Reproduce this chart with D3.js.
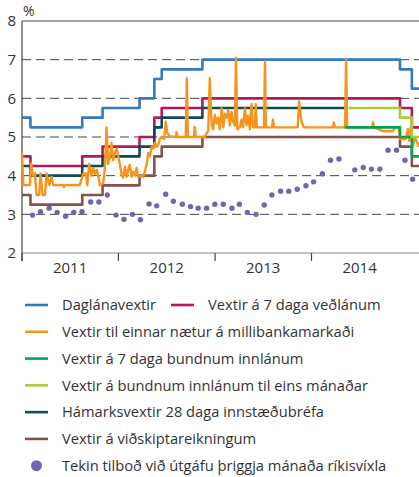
<!DOCTYPE html>
<html>
<head>
<meta charset="utf-8">
<script src="https://d3js.org/d3.v7.min.js"></script>
<style>
  body { margin: 0; background: #fff; }
  text { font-family: "Open Sans", sans-serif; fill: #333; }
</style>
</head>
<body>
<div id="chart"></div>
<script>
// policy rate steps (same dates for several series)
var stepDates = ["2011-01-01","2011-02-02","2011-08-17","2011-11-02","2012-03-21","2012-05-16","2012-06-13","2012-11-14","2014-12-02","2015-01-16","2015-02-12"];
var daglan    = [5.5, 5.25, 5.5, 5.75, 6.0, 6.5, 6.75, 7.0, 6.75, 6.25, 6.25];
var vedlan    = [4.5, 4.25, 4.5, 4.75, 5.0, 5.5, 5.75, 6.0, 5.75, 5.25, 5.25];
var vidskipta = [3.5, 3.25, 3.5, 3.75, 4.0, 4.5, 4.75, 5.0, 4.75, 4.25, 4.25];

var innstDates = ["2011-01-01","2011-02-02","2011-08-17","2011-11-02","2012-03-21","2012-05-16","2012-06-13","2012-11-14","2014-05-07"];
var innst      = [4.25, 4.0, 4.25, 4.5, 4.75, 5.25, 5.5, 5.75, 5.75];

var bundin7Dates = ["2014-05-07","2014-12-02","2015-01-16","2015-02-12"];
var bundin7      = [5.25, 5.0, 4.5, 4.5];
var bundinManDates = ["2014-05-21","2014-12-02","2015-01-16","2015-02-12"];
var bundinMan      = [5.75, 5.5, 5.0, 5.0];

// overnight interbank rate
var nightDates = ["2011-01-01","2011-01-06","2011-01-31","2011-02-04","2011-02-12","2011-02-19","2011-02-25","2011-03-07","2011-03-12","2011-03-20",
  "2011-03-29","2011-04-04","2011-04-14","2011-04-23","2011-04-29","2011-06-05","2011-06-09","2011-06-13","2011-08-08","2011-08-21",
  "2011-08-31","2011-09-05","2011-09-12","2011-09-21","2011-09-28","2011-10-04","2011-10-12","2011-10-23","2011-11-04","2011-11-11",
  "2011-11-17","2011-11-23","2011-11-30","2011-12-06","2011-12-12","2011-12-19","2011-12-26","2011-12-31","2012-01-07","2012-01-13",
  "2012-01-19","2012-01-26","2012-02-01","2012-02-07","2012-02-13","2012-02-20","2012-02-26","2012-03-03","2012-03-10","2012-03-16",
  "2012-03-29","2012-04-04","2012-04-10","2012-04-17","2012-04-23","2012-04-29","2012-05-06","2012-05-12","2012-05-18","2012-05-25",
  "2012-05-31","2012-06-06","2012-06-12","2012-06-22","2012-06-28","2012-07-04","2012-07-14","2012-08-06","2012-08-08","2012-08-13",
  "2012-09-12","2012-09-16","2012-09-20","2012-10-13","2012-10-16","2012-10-20","2012-11-23","2012-11-30","2012-12-06","2012-12-12",
  "2012-12-19","2012-12-25","2012-12-31","2013-01-07","2013-01-13","2013-01-19","2013-01-26","2013-02-01","2013-02-07","2013-02-14",
  "2013-02-20","2013-02-26","2013-03-04","2013-03-10","2013-03-17","2013-03-21","2013-03-26","2013-04-05","2013-04-11","2013-04-17",
  "2013-04-24","2013-04-30","2013-05-06","2013-05-13","2013-05-19","2013-05-25","2013-06-01","2013-06-04","2013-06-08","2013-07-05",
  "2013-07-09","2013-07-12","2013-08-04","2013-08-08","2013-08-12","2013-11-10","2013-11-15","2013-11-22","2013-11-27","2013-12-03",
  "2014-03-23","2014-03-27","2014-03-31","2014-05-08","2014-05-12","2014-05-16","2014-08-18","2014-08-22","2014-08-26","2014-09-29",
  "2014-11-05","2014-11-13","2014-11-28","2014-12-02","2014-12-24","2015-01-01","2015-01-06","2015-01-12","2015-01-20","2015-01-27",
  "2015-02-12"];
var nightRates = [4.6, 3.76, 3.76, 4.32, 4.0, 4.06, 3.5, 3.5, 4.06, 3.5,
  3.5, 4.06, 3.76, 3.97, 3.76, 3.76, 3.7, 3.76, 3.76, 4.06,
  4.06, 3.76, 4.3, 4.0, 4.2, 4.05, 4.15, 3.76, 3.8, 4.2,
  5.25, 4.3, 4.5, 4.85, 4.4, 4.6, 4.7, 4.5, 4.28, 4.02,
  3.95, 4.23, 3.97, 4.15, 4.28, 3.97, 4.1, 4.0, 4.2, 3.97,
  4.0, 3.97, 4.1, 4.3, 4.58, 4.5, 4.75, 4.7, 4.85, 4.75,
  4.8, 4.95, 5.0, 4.95, 5.4, 5.1, 5.02, 5.0, 5.13, 5.0,
  5.0, 6.52, 5.0, 5.0, 5.26, 5.0, 5.0, 5.1, 5.15, 6.52,
  5.3, 5.2, 5.57, 5.35, 5.5, 5.2, 5.74, 5.25, 5.6, 5.5,
  5.7, 5.3, 5.65, 5.4, 5.3, 7.05, 5.2, 5.25, 5.45, 5.25,
  5.74, 5.3, 5.55, 5.2, 5.85, 5.25, 5.25, 5.85, 5.25, 5.25,
  6.96, 5.25, 5.25, 5.45, 5.25, 5.25, 5.92, 5.5, 5.35, 5.25,
  5.25, 5.38, 5.25, 5.25, 7.0, 5.25, 5.25, 5.38, 5.25, 5.15,
  5.15, 5.25, 5.25, 4.95, 4.95, 5.2, 4.9, 5.25, 4.75, 5.0,
  4.75];

// accepted bids, 3-month treasury bills
var tbillDates = ["2011-02-10","2011-03-12","2011-04-14","2011-05-14","2011-06-15","2011-07-16","2011-08-16","2011-09-18","2011-10-19","2011-11-20",
  "2011-12-23","2012-01-22","2012-02-23","2012-03-24","2012-04-26","2012-05-25","2012-06-28","2012-07-27","2012-08-30","2012-09-30",
  "2012-10-29","2012-11-30","2012-12-31","2013-02-01","2013-03-06","2013-04-03","2013-05-03","2013-06-05","2013-07-06","2013-08-04",
  "2013-09-06","2013-10-07","2013-11-08","2013-12-11","2014-01-09","2014-02-11","2014-03-14","2014-04-15","2014-06-14","2014-07-16",
  "2014-08-16","2014-09-17","2014-10-18","2014-11-19","2014-12-21","2015-01-19"];
var tbillRates = [2.98, 3.07, 3.16, 3.05, 2.95, 3.05, 3.07, 3.32, 3.32, 3.5,
  2.98, 2.87, 3.0, 2.86, 3.27, 3.22, 3.52, 3.34, 3.26, 3.2,
  3.16, 3.16, 3.26, 3.26, 3.16, 3.26, 3.05, 3.0, 3.24, 3.5,
  3.6, 3.6, 3.65, 3.74, 3.84, 4.05, 4.4, 4.43, 4.15, 4.21,
  4.17, 4.17, 4.66, 4.66, 4.4, 3.91];

var yTicks = [2, 3, 4, 5, 6, 7, 8];
var years = [2011, 2012, 2013, 2014];

var labels = ["Daglánavextir", "Vextir á 7 daga veðlánum", "Vextir til einnar nætur á millibankamarkaði",
  "Vextir á 7 daga bundnum innlánum", "Vextir á bundnum innlánum til eins mánaðar",
  "Hámarksvextir 28 daga innstæðubréfa", "Vextir á viðskiptareikningum",
  "Tekin tilboð við útgáfu þriggja mánaða ríkisvíxla"];
var colors = ["#3478bd", "#b5165c", "#f7941e", "#00a651", "#a6cd3a", "#0e4a5a", "#88504a", "#7165b2"];

var W = 419, H = 477;
var mLeft = 22, mTop = 21, mBottom = 253;
var parse = d3.timeParse("%Y-%m-%d");

var x = d3.scaleTime()
  .domain([parse("2011-01-01"), parse("2015-02-12")])
  .range([mLeft, W]);
var y = d3.scaleLinear().domain([2, 8]).range([mBottom, mTop]);

var svg = d3.select("#chart").append("svg")
  .attr("width", W).attr("height", H);

// grid
svg.append("g").selectAll("line")
  .data(yTicks.filter(function(d) { return d > 2 && d < 8; }))
  .enter().append("line")
  .attr("x1", mLeft).attr("x2", W)
  .attr("y1", function(d) { return y(d); }).attr("y2", function(d) { return y(d); })
  .attr("stroke", "#444").attr("stroke-width", 1)
  .attr("stroke-dasharray", "9,5");

svg.append("line").attr("x1", mLeft).attr("x2", W).attr("y1", y(8)).attr("y2", y(8))
  .attr("stroke", "#444").attr("stroke-width", 1.2);
svg.append("line").attr("x1", mLeft).attr("x2", W).attr("y1", y(2)).attr("y2", y(2))
  .attr("stroke", "#888").attr("stroke-width", 1);
svg.append("line").attr("x1", mLeft).attr("x2", mLeft).attr("y1", y(8)).attr("y2", y(2) + 8)
  .attr("stroke", "#444").attr("stroke-width", 1.2);

// y labels
svg.append("g").selectAll("text").data(yTicks).enter().append("text")
  .attr("x", 16).attr("y", function(d) { return y(d); })
  .attr("dy", "0.36em").attr("text-anchor", "end")
  .style("font-size", "15px")
  .text(function(d) { return d; });
svg.append("text").attr("x", 23).attr("y", 16).style("font-size", "14px").text("%");

// year ticks and labels
var yearStarts = years.map(function(d) { return new Date(d, 0, 1); });
svg.append("g").selectAll("line").data(yearStarts).enter().append("line")
  .attr("x1", function(d) { return x(d); }).attr("x2", function(d) { return x(d); })
  .attr("y1", mBottom).attr("y2", mBottom + 8)
  .attr("stroke", "#444").attr("stroke-width", 1.2);
svg.append("g").selectAll("text").data(years).enter().append("text")
  .attr("x", function(d) { return x(new Date(d, 6, 2)); })
  .attr("y", mBottom + 20)
  .attr("text-anchor", "middle")
  .style("font-size", "15px")
  .text(function(d) { return d; });

function zip(dates, vals) {
  return dates.map(function(d, i) { return { date: parse(d), v: vals[i] }; });
}

var stepLine = d3.line().curve(d3.curveStepAfter)
  .x(function(d) { return x(d.date); }).y(function(d) { return y(d.v); });
var plainLine = d3.line()
  .x(function(d) { return x(d.date); }).y(function(d) { return y(d.v); });

function draw(data, gen, color, w) {
  svg.append("path").datum(data)
    .attr("d", gen).attr("fill", "none")
    .attr("stroke", color).attr("stroke-width", w)
    .attr("stroke-linejoin", "round");
}

draw(zip(stepDates, daglan), stepLine, colors[0], 2.6);
draw(zip(stepDates, vedlan), stepLine, colors[1], 2.6);
draw(zip(innstDates, innst), stepLine, colors[5], 2.6);
draw(zip(stepDates, vidskipta), stepLine, colors[6], 2.6);
draw(zip(nightDates, nightRates), plainLine, colors[2], 2.4);
draw(zip(bundin7Dates, bundin7), stepLine, colors[3], 2.6);
draw(zip(bundinManDates, bundinMan), stepLine, colors[4], 2.6);

svg.append("g").selectAll("circle").data(zip(tbillDates, tbillRates)).enter().append("circle")
  .attr("cx", function(d) { return x(d.date); })
  .attr("cy", function(d) { return y(d.v); })
  .attr("r", 2.7).attr("fill", colors[7]);

// legend
var rowY = d3.scaleLinear().domain([0, 6]).range([305, 465.7]);
var legendPos = [[0, 25], [0, 171], [1, 25], [2, 25], [3, 25], [4, 25], [5, 25], [6, 25]];
var lg = svg.append("g").selectAll("g").data(labels).enter().append("g")
  .attr("transform", function(d, i) {
    return "translate(" + legendPos[i][1] + "," + rowY(legendPos[i][0]) + ")";
  });
lg.each(function(d, i) {
  var g = d3.select(this);
  if (i === 7) {
    g.append("circle").attr("cx", 11.5).attr("cy", 0).attr("r", 5.5).attr("fill", colors[i]);
  } else {
    g.append("line").attr("x1", 0).attr("x2", 23).attr("y1", 0).attr("y2", 0)
      .attr("stroke", colors[i]).attr("stroke-width", 2.6);
  }
  g.append("text").attr("x", 37).attr("y", 0).attr("dy", "0.35em")
    .style("font-size", "14.7px").text(d);
});
</script>
</body>
</html>
